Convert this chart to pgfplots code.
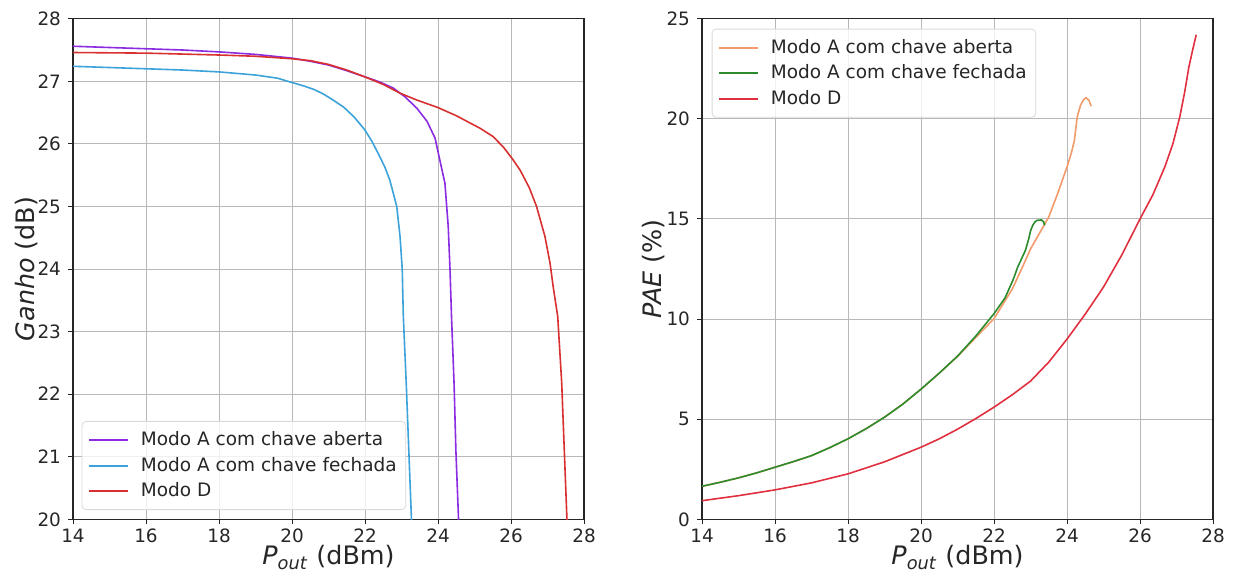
\documentclass[border=0pt]{standalone}
\usepackage{fontspec}
\setmainfont{DejaVu Sans}
\usepackage{pgfplots}
\pgfplotsset{compat=1.18}

\definecolor{cpurple}{HTML}{8B2BE2}
\definecolor{ccyan}{HTML}{3BA3D9}
\definecolor{cred}{HTML}{D83030}
\definecolor{corange}{HTML}{F39A6B}
\definecolor{cgreen}{HTML}{2C8C2C}
\definecolor{cred2}{HTML}{E03040}

\pgfplotsset{
  myaxis/.style={
    scale only axis, width=255.5pt, height=250.3pt,
    xmin=14, xmax=28, xtick={14,16,...,28},
    grid=major, grid style={color=black!28, line width=0.5pt},
    axis line style={line width=0.6pt, black!85},
    tick pos=left, tick align=outside, major tick length=2.5pt,
    tick style={black!85, line width=0.5pt},
    tick label style={font=\fontsize{9.2}{10}\selectfont, text=black!85},
    xticklabel style={yshift=1.2pt},
    /pgf/number format/assume math mode=true,
    xlabel={\textit{P}\textsubscript{\textit{out}} (dBm)},
    label style={font=\fontsize{12.7}{14}\selectfont, text=black!85},
    xlabel style={at={(axis description cs:0.5,0)}, anchor=base, yshift=-22.8pt},
    legend cell align=left,
    legend image code/.code={\draw[#1, line width=1pt] (0pt,0pt) -- (19.5pt,0pt); \path (24pt,0pt);},
    legend style={font=\fontsize{9.25}{10}\selectfont, draw=black!15, rounded corners=2pt,
      fill=white, fill opacity=0.8, text opacity=1, inner xsep=3pt, inner ysep=3pt,
      row sep=0.3pt, text=black!85,
      nodes={inner sep=1.5pt, text height=0.75em, text depth=0.2em}},
  }
}

\begin{document}
\begin{tikzpicture}
\useasboundingbox (-36.5pt,-27.85pt) rectangle (580.5pt,259.65pt);
% ---------------- left: gain ----------------
\begin{axis}[myaxis, at={(0pt,0pt)}, anchor=south west,
  ymin=20, ymax=28, ytick={20,21,...,28},
  ylabel={\textit{Ganho} (dB)},
  ylabel style={at={(axis description cs:-0.0916,0.5)}, anchor=center},
  legend style={at={(axis description cs:0.017,0.0186)}, anchor=south west},
]
\addplot[cpurple, line width=0.8pt] coordinates {
(14,27.56) (15,27.54) (16,27.52) (17,27.50) (18,27.47) (19,27.43) (20,27.37)
(20.5,27.32) (21,27.26) (21.5,27.17) (22,27.07) (22.4,26.99) (22.78,26.89)
(23.1,26.75) (23.42,26.57) (23.7,26.36) (23.92,26.09) (24.05,25.74) (24.19,25.37)
(24.28,24.68) (24.33,23.98) (24.37,23.24) (24.44,22.17) (24.49,21.10) (24.56,20.04) (24.57,19.9)
};
\addlegendentry{Modo A com chave aberta}
\addplot[ccyan, line width=0.8pt] coordinates {
(14,27.24) (15,27.22) (16,27.20) (17,27.18) (18,27.15) (19,27.10) (19.6,27.05)
(20,26.98) (20.3,26.93) (20.6,26.87) (20.85,26.80) (21.1,26.71) (21.41,26.59)
(21.7,26.43) (22,26.22) (22.2,26.03) (22.41,25.79) (22.55,25.62) (22.68,25.42)
(22.87,25.00) (22.96,24.52) (23.02,24.0) (23.05,23.24) (23.13,22.17) (23.20,21.10)
(23.27,20.04) (23.28,19.9)
};
\addlegendentry{Modo A com chave fechada}
\addplot[cred, line width=0.8pt] coordinates {
(14,27.46) (16,27.45) (18,27.42) (19,27.40) (20,27.36) (20.5,27.33) (21,27.27)
(21.5,27.18) (22,27.07) (22.5,26.95) (22.96,26.81) (23.42,26.70) (24,26.58)
(24.5,26.45) (25.15,26.25) (25.5,26.12) (25.79,25.95) (26.05,25.75) (26.25,25.58)
(26.5,25.30) (26.7,25.00) (26.93,24.52) (27.07,24.09) (27.16,23.70) (27.28,23.24)
(27.39,22.17) (27.46,21.10) (27.53,20.04) (27.54,19.9)
};
\addlegendentry{Modo D}
\end{axis}
% ---------------- right: PAE ----------------
\begin{axis}[myaxis, at={(314.5pt,0pt)}, anchor=south west,
  ymin=0, ymax=25, ytick={0,5,...,25},
  ylabel={\textit{PAE} (\%)},
  ylabel style={at={(axis description cs:-0.0955,0.5)}, anchor=center},
  legend style={at={(axis description cs:0.019,0.98)}, anchor=north west},
]
\addplot[corange, line width=0.8pt] coordinates {
(14,1.65) (14.5,1.85) (15,2.07) (15.5,2.32) (16,2.60) (16.5,2.88) (17,3.18)
(17.5,3.58) (18,4.02) (18.5,4.53) (19,5.10) (19.5,5.75) (20,6.50) (20.5,7.30)
(21,8.13) (21.5,9.08) (22,10.02) (22.5,11.5) (22.78,12.6) (23,13.5) (23.25,14.3)
(23.5,15.1) (23.75,16.3) (24,17.6) (24.12,18.3) (24.2,18.9) (24.28,20.1) (24.37,20.68)
(24.45,20.95) (24.52,21.05) (24.6,20.93) (24.66,20.63)
};
\addlegendentry{Modo A com chave aberta}
\addplot[cgreen, line width=0.8pt] coordinates {
(14,1.65) (14.5,1.85) (15,2.07) (15.5,2.32) (16,2.60) (16.5,2.88) (17,3.18)
(17.5,3.58) (18,4.02) (18.5,4.53) (19,5.10) (19.5,5.75) (20,6.50) (20.5,7.30)
(21,8.15) (21.5,9.15) (22,10.27) (22.3,11.05) (22.52,11.95) (22.65,12.6)
(22.86,13.43) (22.95,14.0) (23.0,14.4) (23.06,14.68) (23.12,14.85) (23.18,14.93)
(23.3,14.95) (23.36,14.85) (23.39,14.68)
};
\addlegendentry{Modo A com chave fechada}
\addplot[cred2, line width=0.8pt] coordinates {
(14,0.93) (15,1.18) (16,1.47) (17,1.82) (18,2.27) (19,2.87) (20,3.60) (20.5,4.02)
(21,4.50) (21.5,5.03) (22,5.60) (22.5,6.22) (23,6.90) (23.5,7.85) (24,9.00)
(24.5,10.25) (25,11.6) (25.5,13.2) (26,15.0) (26.35,16.2) (26.68,17.6) (26.9,18.75)
(27.09,20.1) (27.22,21.3) (27.34,22.6) (27.45,23.5) (27.54,24.2)
};
\addlegendentry{Modo D}
\end{axis}
\end{tikzpicture}
\end{document}
